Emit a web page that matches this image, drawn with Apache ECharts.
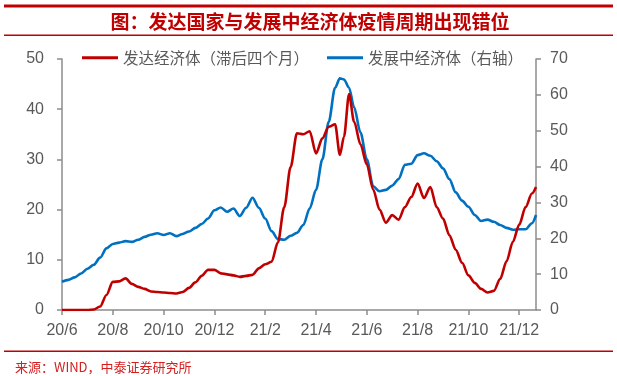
<!DOCTYPE html>
<html>
<head>
<meta charset="utf-8">
<script src="https://cdn.jsdelivr.net/npm/echarts@6/dist/echarts.min.js"></script>
<style>
  html, body { margin: 0; padding: 0; background: #fff; }
  #chart { width: 617px; height: 376px; }
</style>
</head>
<body>
<div id="chart"></div>
<script>
// x 位置：距 2020/6 的月数
const xMonths = [
  0, 0.25, 0.5, 0.75, 1, 1.25, 1.5, 1.75, 2, 2.25, 2.5, 2.75, 3, 3.25, 3.5, 3.75,
  4, 4.25, 4.5, 4.75, 5, 5.25, 5.5, 5.75, 6, 6.25, 6.5, 6.75, 7, 7.25, 7.5, 7.75,
  8, 8.25, 8.5, 8.75, 9, 9.25, 9.5, 9.75, 10, 10.25, 10.5, 10.75, 10.94, 11.1, 11.3,
  11.5, 11.75, 12, 12.25, 12.5, 12.75, 13, 13.25, 13.5, 13.75, 14, 14.25, 14.5, 14.75,
  15, 15.25, 15.5, 15.75, 16, 16.25, 16.5, 16.75, 17, 17.25, 17.5, 17.75, 18, 18.25,
  18.5, 18.66
];
// 发达经济体（滞后四个月），左轴
const developed = [
  0, 0, 0, 0, 0, 0.1, 0.7, 3.0, 5.6, 5.7, 6.3, 5.2, 4.6, 4.2, 3.7, 3.6,
  3.5, 3.4, 3.3, 3.6, 4.4, 5.5, 6.8, 8.0, 8.0, 7.3, 7.1, 6.9, 6.6, 6.8, 7.0, 8.3,
  9.1, 9.6, 13.5, 20.5, 28.5, 35.2, 35.0, 35.6, 31.2, 34.2, 36.5, 37.0, 30.9, 34.5, 43.0,
  37.5, 33.0, 29.0, 24.0, 20.0, 17.4, 18.9, 18.0, 20.5, 22.5, 25.2, 22.3, 24.5, 20.5,
  18.2, 14.9, 12.0, 9.4, 6.9, 5.4, 4.2, 3.5, 3.8, 6.2, 9.7, 13.6, 17.0, 20.5,
  23.2, 24.5
];
// 发展中经济体，右轴
const emerging = [
  7.9, 8.4, 9.1, 10.2, 11.5, 12.6, 14.6, 17.2, 18.4, 18.8, 19.2, 19.0, 19.6, 20.4, 21.0, 21.4,
  20.9, 21.4, 20.6, 21.2, 21.9, 22.9, 24.0, 25.5, 27.8, 28.6, 27.4, 28.3, 26.2, 28.5, 31.3, 28.5,
  25.5, 22.0, 19.8, 19.6, 20.7, 21.5, 23.7, 28.3, 33.5, 42.0, 52.5, 62.0, 64.6, 64.3, 62.0,
  56.5, 49.5, 42.0, 34.5, 33.1, 33.5, 34.7, 36.5, 40.5, 40.8, 43.2, 43.7, 43.0, 41.5,
  39.5, 36.5, 32.8, 30.5, 28.8, 26.5, 24.8, 25.2, 24.6, 23.7, 22.9, 22.4, 22.5, 22.5,
  24.2, 26.5
];
const xLabels = ['20/6', '20/8', '20/10', '20/12', '21/2', '21/4', '21/6', '21/8', '21/10', '21/12'];
const nameDev = '发达经济体（滞后四个月）';
const nameEm = '发展中经济体（右轴）';

const chart = echarts.init(document.getElementById('chart'));
const axisColor = '#8c8c8c';
const labelStyle = { color: '#595959', fontSize: 16, fontFamily: 'Liberation Sans, Arial' };

const option = {
  animation: false,
  grid: { left: 62, right: 81, top: 59, bottom: 66 },
  legend: {
    left: 77,
    top: 45,
    itemWidth: 36,
    itemHeight: 3,
    itemGap: 18,
    icon: 'rect',
    data: [nameDev, nameEm],
    textStyle: { color: '#595959', fontSize: 15.5, fontFamily: 'Noto Sans CJK SC' }
  },
  graphic: [
    { type: 'rect', shape: { x: 4, y: 4.5, width: 609, height: 3 }, style: { fill: '#C00000' } },
    {
      type: 'text', x: 310, y: 22,
      style: {
        text: '图：发达国家与发展中经济体疫情周期出现错位',
        fill: '#C00000', font: 'bold 19px "Noto Sans CJK SC"',
        textAlign: 'center', textVerticalAlign: 'middle'
      }
    },
    { type: 'rect', shape: { x: 4, y: 34.5, width: 609, height: 1.5 }, style: { fill: '#C00000' } },
    { type: 'rect', shape: { x: 4, y: 350.5, width: 609, height: 1.5 }, style: { fill: '#C00000' } },
    {
      type: 'text', x: 15, y: 367,
      style: {
        text: '来源：WIND，中泰证券研究所',
        fill: '#D42020', font: '13px "Noto Sans CJK SC"',
        textVerticalAlign: 'middle'
      }
    }
  ],
  xAxis: {
    type: 'value',
    min: 0,
    max: 18.66,
    interval: 2,
    splitLine: { show: false },
    axisLine: { show: true, lineStyle: { color: axisColor, width: 1.5 } },
    axisTick: { show: true, length: 5, lineStyle: { color: axisColor, width: 1.5 } },
    axisLabel: Object.assign({
      margin: 13,
      showMaxLabel: false,
      formatter: v => (v % 2 === 0 ? xLabels[v / 2] : '')
    }, labelStyle)
  },
  yAxis: [
    {
      type: 'value', position: 'left', min: 0, max: 50, interval: 10,
      splitLine: { show: false },
      axisLine: { show: true, lineStyle: { color: axisColor, width: 1.5 } },
      axisTick: { show: true, length: 5, lineStyle: { color: axisColor, width: 1.5 } },
      axisLabel: Object.assign({ margin: 18 }, labelStyle)
    },
    {
      type: 'value', position: 'right', min: 0, max: 70, interval: 10,
      splitLine: { show: false },
      axisLine: { show: true, lineStyle: { color: axisColor, width: 1.5 } },
      axisTick: { show: true, length: 5, lineStyle: { color: axisColor, width: 1.5 } },
      axisLabel: Object.assign({ margin: 14 }, labelStyle)
    }
  ],
  series: [
    {
      name: nameEm,
      type: 'line',
      yAxisIndex: 1,
      showSymbol: false,
      smooth: 0.3,
      smoothMonotone: 'x',
      lineStyle: { color: '#0070C0', width: 2.6 },
      itemStyle: { color: '#0070C0' },
      data: xMonths.map((m, i) => [m, emerging[i]])
    },
    {
      name: nameDev,
      type: 'line',
      yAxisIndex: 0,
      showSymbol: false,
      smooth: 0.3,
      smoothMonotone: 'x',
      lineStyle: { color: '#C00000', width: 2.6 },
      itemStyle: { color: '#C00000' },
      data: xMonths.map((m, i) => [m, developed[i]])
    }
  ]
};
chart.setOption(option);
</script>
</body>
</html>
